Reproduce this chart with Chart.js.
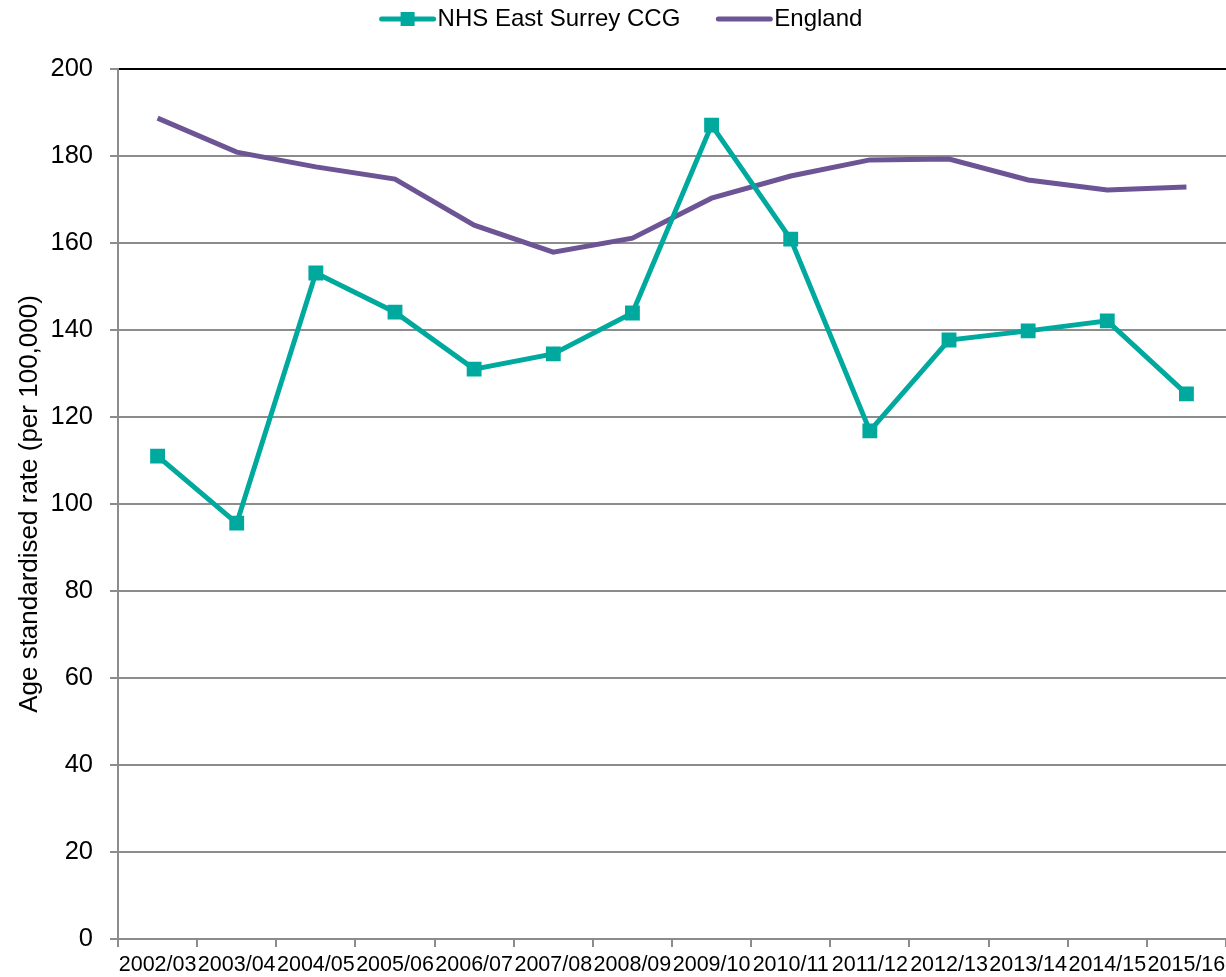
<!DOCTYPE html>
<html>
<head>
<meta charset="utf-8">
<script src="https://cdn.jsdelivr.net/npm/chart.js@4/dist/chart.umd.min.js"></script>
<style>
  body { margin: 0; background: #fff; }
  #wrap { width: 1226px; height: 977px; }
</style>
</head>
<body>
<div id="wrap"><canvas id="rateChart"></canvas></div>
<script>
var years = ['2002/03', '2003/04', '2004/05', '2005/06', '2006/07', '2007/08', '2008/09',
             '2009/10', '2010/11', '2011/12', '2012/13', '2013/14', '2014/15', '2015/16'];

var eastSurrey = [111.0, 95.6, 153.1, 144.1, 131.0, 134.5, 143.9,
                  187.1, 160.9, 116.8, 137.7, 139.8, 142.1, 125.3];

var england = [188.7, 180.9, 177.5, 174.7, 164.1, 157.9, 161.1,
               170.3, 175.4, 179.1, 179.3, 174.5, 172.2, 172.9];

var teal = '#00A99D';
var purple = '#6D5495';
var gridGrey = '#8c8c8c';
var fontFamily = 'Liberation Sans, Arial, sans-serif';

// legend keys: a longer line under each label, and the square marker on the CCG one
var legendMarker = {
    id: 'legendMarker',
    beforeInit: function (chart) {
        // leave some air between the legend and the plot
        var legend = chart.legend;
        var fit = legend.fit;
        legend.fit = function () {
            fit.call(legend);
            legend.height += 28;
        };
    },
    afterDraw: function (chart) {
        var legend = chart.legend;
        if (!legend || !legend.legendHitBoxes.length) return;
        var ctx = chart.ctx;
        var colours = [teal, purple];
        ctx.save();
        legend.legendHitBoxes.forEach(function (box, i) {
            var cy = box.top + box.height / 2;
            ctx.strokeStyle = colours[i];
            ctx.lineWidth = 5;
            ctx.lineCap = 'round';
            ctx.beginPath();
            ctx.moveTo(box.left + 2, cy);
            ctx.lineTo(box.left + 54, cy);
            ctx.stroke();
            if (i === 0) {
                ctx.fillStyle = teal;
                ctx.fillRect(box.left + 28 - 7, cy - 7, 14, 14);
            }
        });
        ctx.restore();
    }
};

var ctx = document.getElementById('rateChart').getContext('2d');
var rateChart = new Chart(ctx, {
    type: 'line',
    data: {
        labels: years,
        datasets: [{
            label: 'NHS East Surrey CCG',
            data: eastSurrey,
            borderColor: teal,
            backgroundColor: teal,
            borderWidth: 5,
            pointStyle: 'rect',
            pointRadius: 10.5,
            pointHoverRadius: 10.5,
            pointBorderWidth: 0,
            tension: 0
        }, {
            label: 'England',
            data: england,
            borderColor: purple,
            backgroundColor: purple,
            borderWidth: 5,
            pointRadius: 0,
            tension: 0
        }]
    },
    options: {
        responsive: true,
        maintainAspectRatio: false,
        animation: false,
        layout: {
            autoPadding: false,
            padding: { top: -29, right: 0, bottom: 0, left: 16 }
        },
        plugins: {
            tooltip: { enabled: false },
            legend: {
                position: 'top',
                labels: {
                    boxWidth: 46,
                    boxHeight: 0,
                    padding: 36,
                    color: '#000',
                    generateLabels: function (chart) {
                        return chart.data.datasets.map(function (ds, i) {
                            return {
                                text: ds.label,
                                fillStyle: 'rgba(0,0,0,0)',
                                strokeStyle: 'rgba(0,0,0,0)',
                                lineWidth: 0,
                                fontColor: '#000',
                                datasetIndex: i
                            };
                        });
                    },
                    font: { family: fontFamily, size: 24 }
                }
            }
        },
        scales: {
            x: {
                offset: true,
                afterFit: function (scale) {
                    scale.height = 38;
                    scale.paddingLeft = 0;
                    scale.paddingRight = 0;
                },
                grid: {
                    offset: true,
                    drawOnChartArea: false,
                    drawTicks: true,
                    tickLength: 8,
                    color: gridGrey,
                    lineWidth: 2
                },
                border: { color: gridGrey, width: 2 },
                ticks: {
                    color: '#000',
                    maxRotation: 0,
                    autoSkip: false,
                    padding: 5,
                    font: { family: fontFamily, size: 21.5 }
                }
            },
            y: {
                min: 0,
                max: 200,
                afterFit: function (scale) {
                    scale.width = 102;
                },
                ticks: {
                    stepSize: 20,
                    color: '#000',
                    padding: 17,
                    font: { family: fontFamily, size: 25.5 }
                },
                grid: {
                    color: function (c) {
                        return c.tick && c.tick.value === 200 ? '#000' : gridGrey;
                    },
                    tickColor: gridGrey,
                    tickLength: 8,
                    lineWidth: 2
                },
                border: { color: gridGrey, width: 2 },
                title: {
                    display: true,
                    text: 'Age standardised rate (per 100,000)',
                    color: '#000',
                    padding: { top: -2, bottom: 4 },
                    font: { family: fontFamily, size: 26 }
                }
            }
        }
    },
    plugins: [legendMarker]
});
</script>
</body>
</html>
